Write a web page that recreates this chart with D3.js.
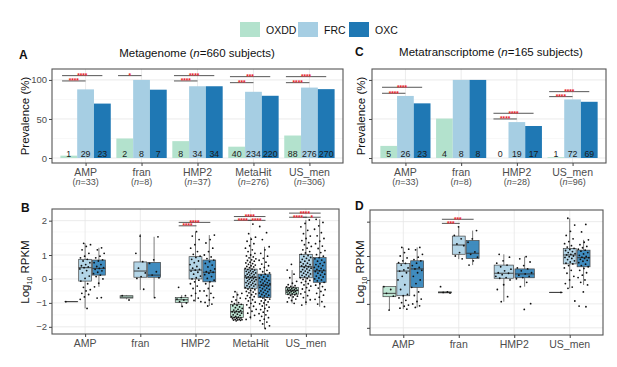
<!DOCTYPE html>
<html>
<head>
<meta charset="utf-8">
<script src="https://cdn.jsdelivr.net/npm/d3@7"></script>
<style>
  body { margin: 0; background: #fff; }
  svg { display: block; font-family: "Liberation Sans", Arial, sans-serif; }
</style>
</head>
<body>
<svg width="617" height="367"></svg>
<script>
// ---- data ----
const subs = ["OXDD", "FRC", "OXC"];
const subColors = ["#b3e2cd", "#a6cee3", "#1f78b4"];

// A: metagenome prevalence (%)
const groupsA = ["AMP", "fran", "HMP2", "MetaHit", "US_men"];
const subjectsA = [33, 8, 37, 276, 306];
const countsA = [[1, 29, 23], [2, 8, 7], [8, 34, 34], [40, 234, 220], [88, 276, 270]];
const prevalenceA = [[3, 87.9, 69.7], [25, 100, 87.5], [21.6, 91.9, 91.9], [14.5, 84.8, 79.7], [28.8, 90.2, 88.2]];
// [group, from sub, to sub, label, level]
const sigA = [
  [0, 0, 2, "****", 105.5], [0, 0, 1, "****", 98.7],
  [1, 0, 1, "*", 105.5],
  [2, 0, 2, "****", 105.5], [2, 0, 1, "****", 98.7],
  [3, 0, 2, "***", 104.2], [3, 0, 1, "***", 96.5],
  [4, 0, 2, "****", 104.2], [4, 0, 1, "****", 96.5]
];

// C: metatranscriptome prevalence (%)
const groupsC = ["AMP", "fran", "HMP2", "US_men"];
const subjectsC = [33, 8, 28, 96];
const countsC = [[5, 26, 23], [4, 8, 8], [0, 19, 17], [1, 72, 69]];
const prevalenceC = [[15.5, 79.5, 70], [50.5, 100, 100], [0, 46, 41], [1, 75, 72]];
const sigC = [
  [0, 0, 2, "****", 90.6], [0, 0, 1, "****", 82.9],
  [2, 0, 2, "****", 57.3], [2, 0, 1, "****", 50],
  [3, 0, 2, "****", 85], [3, 0, 1, "****", 78.6]
];

// B: metagenome log10 RPKM boxes  [group, sub, lo, q1, median, q3, hi]
const boxesB = [
  [0, 0, -0.95, -0.95, -0.95, -0.95, -0.95],
  [0, 1, -1.23, -0.09, 0.47, 0.82, 1.34],
  [0, 2, -0.33, 0.16, 0.44, 0.79, 1.21],
  [1, 0, -0.85, -0.8, -0.76, -0.7, -0.67],
  [1, 1, -0.46, 0.07, 0.33, 0.71, 1.61],
  [1, 2, -0.81, 0.07, 0.16, 0.69, 1.53],
  [2, 0, -1.16, -0.98, -0.87, -0.77, -0.67],
  [2, 1, -0.95, 0.0, 0.37, 0.93, 1.68],
  [2, 2, -1.13, -0.12, 0.28, 0.79, 1.58],
  [3, 0, -1.72, -1.61, -1.37, -1.06, -0.53],
  [3, 1, -1.69, -0.39, 0.07, 0.41, 1.52],
  [3, 2, -2.07, -0.77, -0.26, 0.2, 1.24],
  [4, 0, -1.02, -0.64, -0.49, -0.35, 0.37],
  [4, 1, -1.09, 0.05, 0.51, 1.02, 2.02],
  [4, 2, -1.16, -0.14, 0.34, 0.89, 2.04]
];
const pointsB = [
  [-0.95],
  [1.34, 1.3, 1.25, 1.15, 1.05, 0.95, 0.88, 0.82, 0.75, 0.68, 0.6, 0.55, 0.5, 0.47, 0.42, 0.35, 0.25, 0.12, 0.02, -0.09, -0.2, -0.35, -0.45, -0.5, -0.6, -0.65, -0.75, -0.85, -1.23],
  [1.21, 1.15, 1.05, 0.95, 0.88, 0.8, 0.75, 0.68, 0.6, 0.52, 0.47, 0.44, 0.4, 0.34, 0.28, 0.22, 0.16, 0.1, 0.0, -0.18, -0.33, -0.78, -0.8],
  [-0.7, -0.88],
  [1.55, 1.05, 0.72, 0.45, 0.25, 0.1, 0.02, -0.43],
  [1.53, 0.8, 0.65, 0.3, 0.16, 0.05, -0.78],
  [-0.35, -0.7, -0.78, -0.84, -0.88, -0.95, -1.0, -1.15],
  [1.68, 1.55, 1.45, 1.3, 1.2, 1.1, 1.02, 0.95, 0.9, 0.82, 0.75, 0.68, 0.6, 0.52, 0.45, 0.4, 0.37, 0.33, 0.28, 0.2, 0.12, 0.05, 0.0, -0.05, -0.12, -0.2, -0.3, -0.4, -0.5, -0.6, -0.7, -0.8, -0.9, -0.95],
  [1.58, 1.45, 1.35, 1.2, 1.1, 1.0, 0.92, 0.85, 0.79, 0.72, 0.65, 0.58, 0.5, 0.42, 0.35, 0.3, 0.28, 0.24, 0.18, 0.1, 0.02, -0.05, -0.12, -0.2, -0.3, -0.4, -0.5, -0.6, -0.7, -0.78, -0.88, -0.98, -1.05, -1.13],
  [-0.53, -0.6, -0.66, -0.75, -0.8, -0.88, -0.95, -0.99, -1.03, -1.06, -1.1, -1.12, -1.17, -1.2, -1.23, -1.27, -1.3, -1.32, -1.35, -1.37, -1.38, -1.41, -1.43, -1.47, -1.5, -1.52, -1.56, -1.58, -1.6, -1.61, -1.63, -1.64, -1.66, -1.68, -1.69, -1.7, -1.71, -1.72, -1.73, -1.75],
  [1.9, 1.62, 1.52, 1.46, 1.4, 1.33, 1.27, 1.2, 1.15, 1.1, 1.05, 1.0, 0.96, 0.92, 0.88, 0.84, 0.8, 0.77, 0.74, 0.7, 0.67, 0.64, 0.61, 0.58, 0.55, 0.52, 0.5, 0.47, 0.44, 0.41, 0.39, 0.37, 0.34, 0.32, 0.3, 0.27, 0.25, 0.23, 0.2, 0.18, 0.16, 0.13, 0.11, 0.09, 0.07, 0.05, 0.03, 0.01, -0.01, -0.03, -0.06, -0.08, -0.1, -0.13, -0.15, -0.18, -0.2, -0.23, -0.25, -0.28, -0.3, -0.33, -0.36, -0.39, -0.42, -0.45, -0.48, -0.52, -0.55, -0.58, -0.62, -0.66, -0.7, -0.74, -0.78, -0.82, -0.87, -0.92, -0.97, -1.02, -1.08, -1.14, -1.2, -1.27, -1.35, -1.43, -1.52, -1.6, -1.69],
  [1.83, 1.65, 1.45, 1.24, 1.15, 1.05, 0.95, 0.86, 0.78, 0.7, 0.62, 0.55, 0.48, 0.42, 0.36, 0.3, 0.25, 0.2, 0.16, 0.12, 0.08, 0.04, 0.0, -0.03, -0.06, -0.09, -0.12, -0.15, -0.18, -0.21, -0.24, -0.26, -0.29, -0.32, -0.35, -0.38, -0.41, -0.44, -0.47, -0.5, -0.53, -0.56, -0.59, -0.62, -0.65, -0.68, -0.71, -0.74, -0.77, -0.8, -0.84, -0.88, -0.92, -0.96, -1.0, -1.04, -1.08, -1.13, -1.18, -1.23, -1.28, -1.33, -1.39, -1.45, -1.5, -1.56, -1.62, -1.68, -1.74, -1.8, -1.88, -1.96, -2.07],
  [0.61, 0.37, 0.2, 0.05, -0.1, -0.18, -0.24, -0.28, -0.31, -0.33, -0.35, -0.37, -0.39, -0.41, -0.43, -0.44, -0.46, -0.47, -0.49, -0.5, -0.52, -0.53, -0.55, -0.56, -0.58, -0.6, -0.62, -0.64, -0.66, -0.69, -0.72, -0.75, -0.79, -0.84, -0.9, -0.96, -1.02],
  [2.02, 1.92, 1.82, 1.72, 1.62, 1.55, 1.48, 1.42, 1.36, 1.3, 1.25, 1.2, 1.15, 1.1, 1.06, 1.02, 0.98, 0.94, 0.9, 0.86, 0.82, 0.78, 0.74, 0.7, 0.66, 0.63, 0.6, 0.57, 0.54, 0.51, 0.48, 0.45, 0.42, 0.39, 0.36, 0.33, 0.3, 0.27, 0.24, 0.21, 0.18, 0.15, 0.12, 0.09, 0.05, 0.02, -0.02, -0.06, -0.1, -0.15, -0.2, -0.25, -0.3, -0.36, -0.42, -0.48, -0.55, -0.62, -0.7, -0.78, -0.87, -0.97, -1.09],
  [2.04, 1.95, 1.85, 1.75, 1.65, 1.56, 1.48, 1.4, 1.33, 1.26, 1.19, 1.13, 1.07, 1.01, 0.95, 0.89, 0.84, 0.79, 0.74, 0.69, 0.64, 0.6, 0.56, 0.52, 0.48, 0.44, 0.4, 0.37, 0.34, 0.31, 0.28, 0.24, 0.2, 0.16, 0.12, 0.08, 0.04, 0.0, -0.04, -0.08, -0.14, -0.2, -0.26, -0.32, -0.38, -0.45, -0.52, -0.6, -0.68, -0.76, -0.85, -0.95, -1.05, -1.16]
];
const sigB = [
  [2, 0, 2, "****", 1.95], [2, 0, 1, "****", 1.85],
  [3, 0, 2, "****", 2.12], [3, 0, 1, "****", 2.01], [3, 1, 2, "****", 2.01],
  [4, 0, 2, "****", 2.22], [4, 0, 1, "****", 2.1], [4, 1, 2, "*", 2.1]
];

// D: metatranscriptome log10 RPKM boxes
const boxesD = [
  [0, 0, -1.26, -0.7, -0.56, -0.28, -0.28],
  [0, 1, -1.22, -0.66, 0.37, 0.69, 1.25],
  [0, 2, -1.15, -0.31, 0.46, 0.8, 1.25],
  [1, 0, -0.55, -0.54, -0.52, -0.5, -0.5],
  [1, 1, 0.87, 1.05, 1.32, 1.58, 1.85],
  [1, 2, 0.62, 0.9, 1.08, 1.45, 1.74],
  [2, 1, -0.91, 0.07, 0.28, 0.62, 1.05],
  [2, 2, -0.28, 0.09, 0.25, 0.46, 0.97],
  [3, 0, -0.52, -0.52, -0.52, -0.52, -0.52],
  [3, 1, -0.35, 0.67, 1.03, 1.22, 2.1],
  [3, 2, -0.21, 0.55, 0.93, 1.17, 1.47]
];
const pointsD = [
  [-0.28, -0.4, -0.56, -0.68, -1.26],
  [1.25, 1.2, 1.1, 1.0, 0.92, 0.8, 0.72, 0.69, 0.62, 0.5, 0.42, 0.37, 0.3, 0.15, 0.0, -0.2, -0.4, -0.6, -0.66, -0.75, -0.85, -0.95, -1.05, -1.1, -1.18, -1.22],
  [1.25, 1.18, 1.05, 0.95, 0.85, 0.8, 0.7, 0.6, 0.52, 0.46, 0.4, 0.3, 0.15, 0.0, -0.15, -0.31, -0.5, -0.65, -0.8, -0.9, -1.0, -1.08, -1.15],
  [-0.28, -0.5, -0.52, -0.55],
  [1.85, 1.6, 1.5, 1.35, 1.3, 1.1, 1.0, 0.88],
  [1.74, 1.5, 1.4, 1.12, 1.05, 0.95, 0.8, 0.62],
  [1.05, 0.95, 0.8, 0.7, 0.62, 0.55, 0.45, 0.38, 0.3, 0.28, 0.22, 0.15, 0.1, 0.07, 0.0, -0.2, -0.4, -0.7, -0.91],
  [0.97, 0.88, 0.75, 0.6, 0.5, 0.46, 0.38, 0.3, 0.25, 0.2, 0.15, 0.1, 0.05, -0.1, -0.28, -0.99, -1.23],
  [-0.52],
  [2.1, 1.9, 1.72, 1.6, 1.5, 1.42, 1.36, 1.3, 1.26, 1.22, 1.19, 1.16, 1.13, 1.1, 1.07, 1.05, 1.03, 1.0, 0.97, 0.94, 0.9, 0.85, 0.8, 0.75, 0.7, 0.67, 0.6, 0.5, 0.4, 0.28, 0.15, 0.0, -0.15, -0.3, -0.35, -0.88],
  [1.92, 1.7, 1.47, 1.4, 1.33, 1.28, 1.24, 1.2, 1.17, 1.14, 1.1, 1.06, 1.02, 0.98, 0.95, 0.93, 0.9, 0.86, 0.82, 0.78, 0.72, 0.66, 0.6, 0.55, 0.48, 0.4, 0.3, 0.2, 0.1, 0.0, -0.1, -0.21, -0.5, -1.09, -1.12]
];
const sigD = [[1, 0, 2, "***", 2.07], [1, 0, 1, "***", 1.95]];

const prevTicks = [0, 50, 100];
const prevMinor = [25, 75];
const logTicks = [-2, -1, 0, 1, 2];
const logMinor = [-1.5, -0.5, 0.5, 1.33, 1.67];

// ---- drawing ----
const svg = d3.select("svg");

function frame(x, y, x0, x1, y0, y1, major, minor) {
  const g = svg.append("g");
  g.selectAll(".mi").data(minor).join("line")
    .attr("x1", x0).attr("x2", x1).attr("y1", d => y(d)).attr("y2", d => y(d))
    .attr("stroke", "#f3f3f3").attr("stroke-width", 0.6);
  g.selectAll(".ma").data(major).join("line")
    .attr("x1", x0).attr("x2", x1).attr("y1", d => y(d)).attr("y2", d => y(d))
    .attr("stroke", "#e6e6e6").attr("stroke-width", 0.8);
  g.selectAll(".vx").data(x.domain()).join("line")
    .attr("x1", d => x(d)).attr("x2", d => x(d)).attr("y1", y0).attr("y2", y1)
    .attr("stroke", "#e6e6e6").attr("stroke-width", 0.8);
  return g;
}

function border(x0, x1, y0, y1) {
  svg.append("rect").attr("x", x0).attr("y", y0).attr("width", x1 - x0).attr("height", y1 - y0)
    .attr("fill", "none").attr("stroke", "#555").attr("stroke-width", 1.1);
}

function xAxis(x, y1, nList) {
  const ax = svg.append("g").attr("transform", `translate(0,${y1})`)
    .call(d3.axisBottom(x).tickSize(3).tickPadding(2).tickFormat(""));
  ax.select(".domain").remove();
  ax.selectAll(".tick line").attr("stroke", "#444");
  const lab = svg.append("g");
  x.domain().forEach((d, i) => {
    lab.append("text").attr("x", x(d)).attr("y", y1 + 12.5).attr("text-anchor", "middle")
      .attr("font-size", 10.5).attr("fill", "#4d4d4d").text(d);
    if (nList) {
      const t = lab.append("text").attr("x", x(d)).attr("y", y1 + 22).attr("text-anchor", "middle")
        .attr("font-size", 9).attr("fill", "#4d4d4d");
      t.append("tspan").text("(");
      t.append("tspan").attr("font-style", "italic").text("n");
      t.append("tspan").text("=" + nList[i] + ")");
    }
  });
}

function yAxis(y, x0, ticks, fmt) {
  const ax = svg.append("g").attr("transform", `translate(${x0},0)`)
    .call(d3.axisLeft(y).tickValues(ticks).tickSize(3).tickPadding(2).tickFormat(fmt));
  ax.select(".domain").remove();
  ax.selectAll(".tick line").attr("stroke", "#444");
  ax.selectAll(".tick text").attr("font-size", 9.5).attr("fill", "#4d4d4d")
    .attr("font-family", '"Liberation Sans", Arial, sans-serif');
}

function yTitle(x, yc, main, sub, rest) {
  const t = svg.append("text").attr("transform", `translate(${x},${yc}) rotate(-90)`)
    .attr("text-anchor", "middle").attr("font-size", 11.5).attr("fill", "#111");
  t.append("tspan").text(main);
  if (sub) {
    t.append("tspan").attr("font-size", 7).attr("dy", 3).text(sub);
    t.append("tspan").attr("dy", -3).text(rest);
  }
}

function sigMarks(list, pos, y, startOff, endOff) {
  const g = svg.append("g");
  list.forEach(([gi, a, b, lab, lev]) => {
    const xa = pos(gi, a) - startOff, xb = pos(gi, b) + endOff, yy = y(lev);
    g.append("line").attr("x1", xa).attr("x2", xb).attr("y1", yy).attr("y2", yy)
      .attr("stroke", "#444").attr("stroke-width", 0.9);
    g.append("text").attr("x", (xa + xb) / 2).attr("y", yy + 2.4).attr("text-anchor", "middle")
      .attr("font-size", 6.5).attr("font-weight", "bold").attr("fill", "#e8222b").text(lab);
  });
}

function barPanel(groups, prev, counts, sig, subjects, x0, x1, y0, y1, showTicks) {
  const x = d3.scalePoint().domain(groups).range([x0, x1]).padding(0.6);
  const y = d3.scaleLinear().domain([-6.4, 114]).range([y1, y0]);
  const bw = x.step() * 0.9;
  const xs = d3.scaleBand().domain(d3.range(3)).range([-bw / 2, bw / 2]);
  const pos = (gi, k) => x(groups[gi]) + xs(k) + xs.bandwidth() / 2;
  frame(x, y, x0, x1, y0, y1, prevTicks, prevMinor);
  const g = svg.append("g");
  groups.forEach((grp, gi) => {
    prev[gi].forEach((v, k) => {
      g.append("rect").attr("x", x(grp) + xs(k)).attr("width", xs.bandwidth())
        .attr("y", y(v)).attr("height", y(0) - y(v)).attr("fill", subColors[k]);
      g.append("text").attr("x", pos(gi, k)).attr("y", y(0) - 1.5).attr("text-anchor", "middle")
        .attr("font-size", 8.8).attr("fill", "#1a1a1a").text(counts[gi][k]);
    });
  });
  sigMarks(sig, pos, y, xs.bandwidth() * 0.4, 0);
  border(x0, x1, y0, y1);
  xAxis(x, y1, subjects);
  if (showTicks) yAxis(y, x0, prevTicks, d3.format("d"));
  else {
    const ax = svg.append("g").attr("transform", `translate(${x0},0)`)
      .call(d3.axisLeft(y).tickValues(prevTicks).tickSize(3).tickFormat(""));
    ax.select(".domain").remove();
    ax.selectAll(".tick line").attr("stroke", "#444");
  }
}

function boxPanel(groups, boxes, points, sig, x0, x1, y0, y1, showTicks) {
  const x = d3.scalePoint().domain(groups).range([x0, x1]).padding(0.6);
  const y = d3.scaleLinear().domain([-2.3, 1, 2.34]).range([y1, y1 - (y1 - y0) * 79 / 125, y0]);
  const dw = x.step() * 0.75;
  const pos = (gi, k) => {
    const present = boxes.filter(b => b[0] === gi).map(b => b[1]);
    const n = present.length, w = dw / n;
    return x(groups[gi]) + (present.indexOf(k) - (n - 1) / 2) * w;
  };
  const wOf = gi => dw / boxes.filter(b => b[0] === gi).length;
  frame(x, y, x0, x1, y0, y1, logTicks, logMinor);
  const g = svg.append("g");
  boxes.forEach(([gi, k, lo, q1, med, q3, hi]) => {
    const cx = pos(gi, k), w = wOf(gi) * 0.93;
    g.append("line").attr("x1", cx).attr("x2", cx).attr("y1", y(hi)).attr("y2", y(q3))
      .attr("stroke", "#444").attr("stroke-width", 0.7);
    g.append("line").attr("x1", cx).attr("x2", cx).attr("y1", y(q1)).attr("y2", y(lo))
      .attr("stroke", "#444").attr("stroke-width", 0.7);
    g.append("rect").attr("x", cx - w / 2).attr("width", w).attr("y", y(q3))
      .attr("height", Math.max(0.01, y(q1) - y(q3))).attr("fill", subColors[k]).attr("fill-opacity", 0.85)
      .attr("stroke", "#444").attr("stroke-width", 0.7);
    g.append("line").attr("x1", cx - w / 2).attr("x2", cx + w / 2).attr("y1", y(med)).attr("y2", y(med))
      .attr("stroke", "#333").attr("stroke-width", 0.9);
  });
  const pg = svg.append("g");
  boxes.forEach(([gi, k], bi) => {
    const cx = pos(gi, k), jw = wOf(gi) * 0.4;
    points[bi].forEach((v, i) => {
      const off = (((i * 0.618034 + bi * 0.37) % 1) - 0.5) * 2 * jw;
      pg.append("circle").attr("cx", cx + off).attr("cy", y(v)).attr("r", 0.9).attr("fill", "#111");
    });
  });
  sigMarks(sig, pos, y, 3, 1);
  border(x0, x1, y0, y1);
  xAxis(x, y1, null);
  if (showTicks) yAxis(y, x0, logTicks, d => d < 0 ? "\u2212" + Math.abs(d) : d);
  else {
    const ax = svg.append("g").attr("transform", `translate(${x0},0)`)
      .call(d3.axisLeft(y).tickValues(logTicks).tickSize(3).tickFormat(""));
    ax.select(".domain").remove();
    ax.selectAll(".tick line").attr("stroke", "#444");
  }
}

// legend
const leg = svg.append("g");
const legX = [240, 298, 349];
subs.forEach((s, i) => {
  leg.append("rect").attr("x", legX[i]).attr("y", 22).attr("width", 20).attr("height", 15).attr("fill", subColors[i]);
  leg.append("text").attr("x", legX[i] + 26).attr("y", 33.5).attr("font-size", 10.5).attr("fill", "#111").text(s);
});

// panel titles and letters
function title(x, y, pre, n, post) {
  const t = svg.append("text").attr("x", x).attr("y", y).attr("text-anchor", "middle")
    .attr("font-size", 11.5).attr("fill", "#111");
  t.append("tspan").text(pre);
  t.append("tspan").attr("font-style", "italic").text("n");
  t.append("tspan").text(post);
}
function letter(x, y, s) {
  svg.append("text").attr("x", x).attr("y", y).attr("font-size", 12).attr("font-weight", "bold").attr("fill", "#111").text(s);
}
title(197, 57, "Metagenome (", "n", "=660 subjects)");
title(491, 56, "Metatranscriptome (", "n", "=165 subjects)");
letter(19, 59, "A");
letter(21, 212, "B");
letter(355, 56, "C");
letter(355, 210, "D");

barPanel(groupsA, prevalenceA, countsA, sigA, subjectsA, 52, 343, 69, 163, true);
barPanel(groupsC, prevalenceC, countsC, sigC, subjectsC, 372, 606, 69, 163, false);
boxPanel(groupsA, boxesB, pointsB, sigB, 52, 339, 209, 334, true);
boxPanel(groupsC, boxesD, pointsD, sigD, 370, 603, 210, 335, false);

yTitle(29, 116, "Prevalence (%)");
yTitle(365, 116, "Prevalence (%)");
yTitle(29, 272, "Log", "10", " RPKM");
yTitle(364, 272, "Log", "10", " RPKM");
</script>
</body>
</html>
